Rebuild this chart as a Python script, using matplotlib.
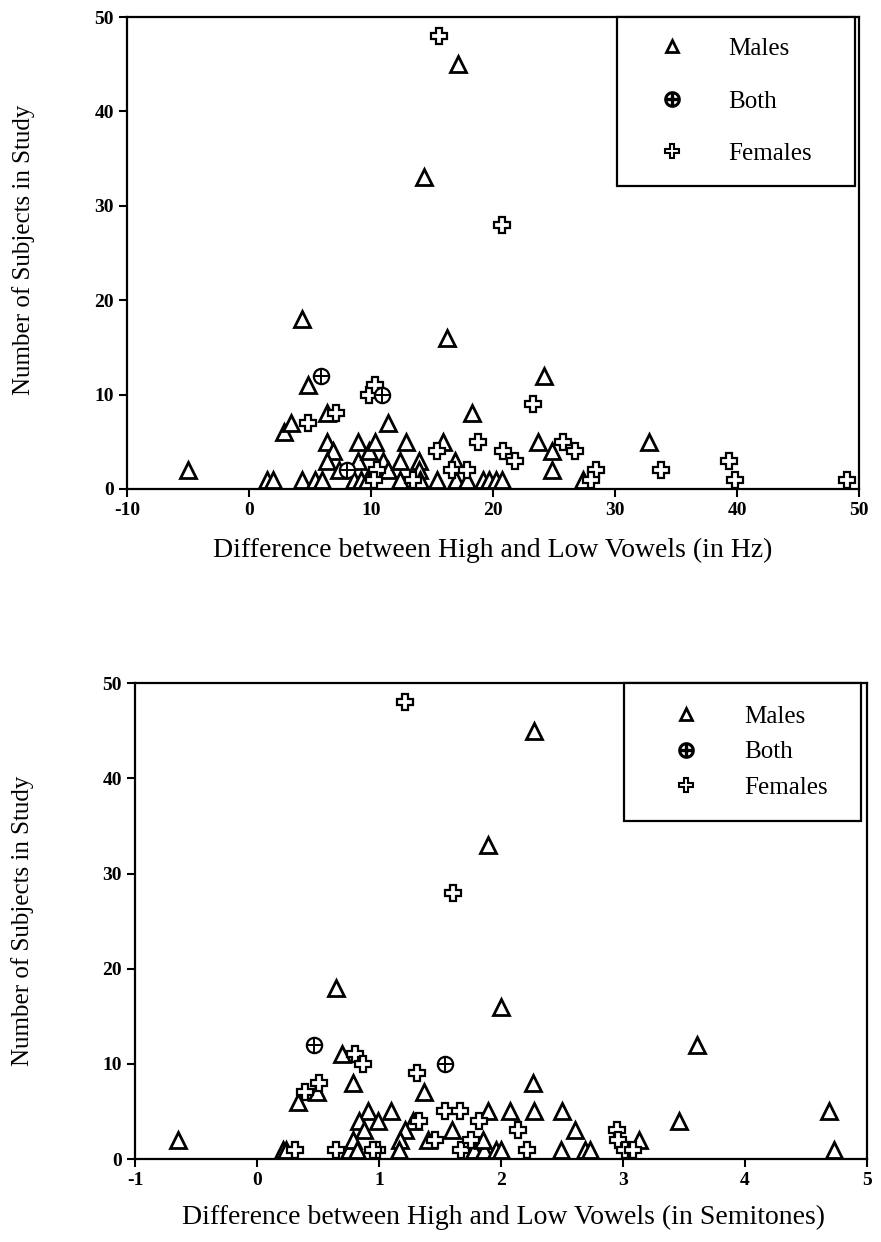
import matplotlib
matplotlib.use('Agg')
import matplotlib.pyplot as plt
from matplotlib.lines import Line2D

plt.rcParams['font.family'] = ['Liberation Serif', 'DejaVu Serif']
plt.rcParams['axes.unicode_minus'] = False

# --- top panel: difference in Hz ---
hz_males_x = [-5, 1.5, 2, 2.9, 3.4, 4.3, 4.8, 4.3, 5.4, 6, 6.4, 6.4, 6.9, 6.4, 7.4,
              8.9, 8.9, 9.8, 10.3, 8.6, 9.2, 9.7, 11, 11.4, 11.4, 12.4, 12.4, 12.9,
              13.9, 13.9, 14, 14.3, 15.4, 15.9, 16.2, 16.9, 17, 17.1, 17.9, 18.3,
              19.2, 19.7, 20.2, 20.7, 23.7, 24.2, 24.8, 24.8, 27.4, 32.8]
hz_males_y = [2, 1, 1, 6, 7, 18, 11, 1, 1, 1, 8, 5, 4, 3, 2,
              5, 3, 4, 5, 1, 1, 1, 3, 7, 2, 3, 1, 5,
              3, 2, 1, 33, 1, 5, 16, 3, 1, 45, 1, 8,
              1, 1, 1, 1, 5, 12, 4, 2, 1, 5]
hz_both_x = [5.9, 10.9, 8.0]
hz_both_y = [12, 10, 2]
hz_fem_x = [15.6, 20.7, 4.8, 7.1, 9.8, 10.3, 23.3, 18.8, 15.4, 20.8, 21.8, 25.7,
            26.7, 28.4, 28.0, 33.8, 39.3, 39.8, 49, 10.5, 13.4, 16.6, 17.9, 10.2]
hz_fem_y = [48, 28, 7, 8, 10, 11, 9, 5, 4, 4, 3, 5,
            4, 2, 1, 2, 3, 1, 1, 2, 1, 2, 2, 1]

# --- bottom panel: difference in semitones ---
st_males_x = [-0.65, 0.7, 0.79, 0.49, 0.34, 0.91, 0.84, 0.88, 0.21, 0.24, 0.75, 0.79,
              0.82, 2.0, 1.37, 2.26, 1.10, 1.89, 2.07, 2.27, 2.50, 0.99, 2.61, 1.28,
              1.60, 1.21, 1.17, 1.16, 1.40, 1.78, 1.86, 1.85, 1.96, 2.0, 2.49, 2.69,
              2.73, 3.46, 4.69, 4.73, 3.13, 2.27, 1.89, 0.65, 3.61]
st_males_y = [2, 11, 8, 7, 6, 5, 4, 3, 1, 1, 1, 2,
              1, 16, 7, 8, 5, 5, 5, 5, 5, 4, 3, 4,
              3, 3, 2, 1, 2, 1, 1, 2, 1, 1, 1, 1,
              1, 4, 5, 1, 2, 45, 33, 18, 12]
st_both_x = [0.47, 1.54]
st_both_y = [12, 10]
st_fem_x = [1.21, 1.61, 0.80, 0.87, 0.51, 0.39, 1.31, 1.54, 1.66, 1.82, 2.14, 2.95,
            2.96, 1.33, 1.46, 0.98, 1.67, 1.75, 2.21, 3.02, 0.31, 0.65, 0.95, 3.08]
st_fem_y = [48, 28, 11, 10, 8, 7, 9, 5, 5, 4, 3, 3,
            2, 4, 2, 1, 1, 2, 1, 1, 1, 1, 1, 1]

labels = ['Males', 'Both', 'Females']


def draw_points(ax, mx, my, bx, by, fx, fy):
    ax.plot(mx, my, '^', ms=12, mfc='white', mec='black', mew=2.0, ls='none', clip_on=False)
    ax.plot(fx, fy, 'P', ms=12, mfc='white', mec='black', mew=1.6, ls='none', clip_on=False)
    ax.plot(bx, by, 'o', ms=11, mfc='white', mec='black', mew=1.6, ls='none', clip_on=False)
    ax.plot(bx, by, '+', ms=11, mec='black', mew=1.4, ls='none', clip_on=False)


def style_axes(ax):
    for s in ax.spines.values():
        s.set_linewidth(1.6)
    ax.tick_params(direction='out', length=6, width=1.5, labelsize=14)
    for lab in ax.get_xticklabels() + ax.get_yticklabels():
        lab.set_fontweight('bold')
    ax.set_ylim(0, 50)
    ax.set_yticks([0, 10, 20, 30, 40, 50])
    ax.set_ylabel('Number of Subjects in Study', fontsize=18)


def legend_handles():
    h1 = Line2D([], [], marker='^', ls='none', ms=9, mfc='white', mec='black', mew=2.0)
    h2 = Line2D([], [], marker='$\\oplus$', ls='none', ms=11, color='black')
    h3 = Line2D([], [], marker='P', ls='none', ms=10, mfc='white', mec='black', mew=1.5)
    return [h1, h2, h3]


fig = plt.figure(figsize=(8.81, 12.42), dpi=100)

ax1 = fig.add_axes([0.1442, 0.6063, 0.831, 0.380])
draw_points(ax1, hz_males_x, hz_males_y, hz_both_x, hz_both_y, hz_fem_x, hz_fem_y)
ax1.set_xlim(-10, 50)
ax1.set_xticks([-10, 0, 10, 20, 30, 40, 50])
style_axes(ax1)
ax1.yaxis.set_label_coords(-0.126, 0.506)
ax1.set_xlabel('Difference between High and Low Vowels (in Hz)', fontsize=20)
ax1.xaxis.set_label_coords(0.499, -0.104)
leg1 = ax1.legend(legend_handles(), labels, loc='upper left', mode='expand',
                  bbox_to_anchor=(0.669, 0.0, 0.325, 1.0), borderaxespad=0,
                  fontsize=18, labelspacing=1.2, handletextpad=0.86,
                  borderpad=0.82, handlelength=2.76,
                  fancybox=False, framealpha=1, edgecolor='black')
leg1.get_frame().set_linewidth(1.6)

ax2 = fig.add_axes([0.1532, 0.0668, 0.831, 0.383])
draw_points(ax2, st_males_x, st_males_y, st_both_x, st_both_y, st_fem_x, st_fem_y)
ax2.set_xlim(-1, 5)
ax2.set_xticks([-1, 0, 1, 2, 3, 4, 5])
style_axes(ax2)
ax2.yaxis.set_label_coords(-0.138, 0.50)
ax2.set_xlabel('Difference between High and Low Vowels (in Semitones)', fontsize=20)
ax2.xaxis.set_label_coords(0.504, -0.097)
leg2 = ax2.legend(legend_handles(), labels, loc='upper left', mode='expand',
                  bbox_to_anchor=(0.668, 0.0, 0.324, 1.0), borderaxespad=0,
                  fontsize=18, labelspacing=0.52, handletextpad=0.72,
                  borderpad=0.88, handlelength=3.22,
                  fancybox=False, framealpha=1, edgecolor='black')
leg2.get_frame().set_linewidth(1.6)

fig.savefig('out.png', dpi=100)
